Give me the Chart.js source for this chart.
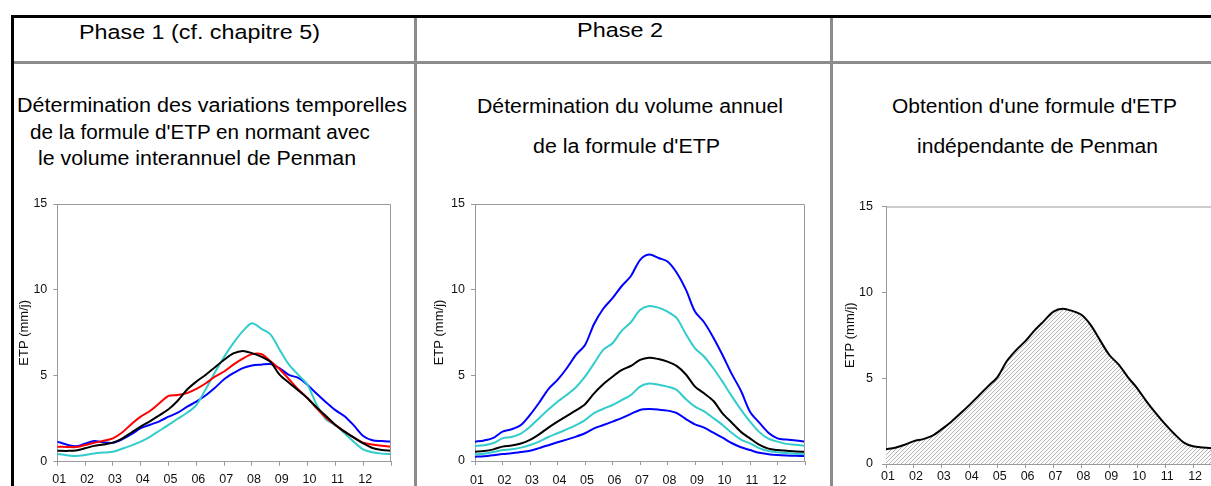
<!DOCTYPE html>
<html lang="fr">
<head>
<meta charset="utf-8">
<title>ETP - phases 1 et 2</title>
<script src="https://cdn.jsdelivr.net/npm/chart.js@4.4.1/dist/chart.umd.min.js"></script>
<style>
  html, body { margin: 0; padding: 0; background: #fff; overflow: hidden; }
  body { width: 1211px; height: 486px; position: relative; font-family: "Liberation Sans", Arial, sans-serif; color: #000; }
  .ln { position: absolute; }
  .txt { position: absolute; white-space: nowrap; transform-origin: 0 0; }
  .hd { font-size: 20.5px; line-height: 20px; }
  .sub { font-size: 19.5px; line-height: 19px; }
  canvas { position: absolute; }
</style>
</head>
<body>
<!-- cadre du tableau -->
<div class="ln" style="left:11px;top:15px;width:1200px;height:3px;background:#000"></div>
<div class="ln" style="left:11px;top:15px;width:3px;height:471px;background:#000"></div>
<div class="ln" style="left:14px;top:61px;width:1197px;height:3px;background:#8c8c8c"></div>
<div class="ln" style="left:414px;top:18px;width:3px;height:468px;background:#8c8c8c"></div>
<div class="ln" style="left:830px;top:18px;width:3px;height:468px;background:#8c8c8c"></div>

<!-- textes (data-w = largeur visée) -->
<div class="txt hd" data-w="241" style="left:79px;top:22px">Phase 1 (cf. chapitre 5)</div>
<div class="txt hd" data-w="86" style="left:577px;top:20px">Phase 2</div>

<div class="txt sub" data-w="390" style="left:17px;top:96px">Détermination des variations temporelles</div>
<div class="txt sub" data-w="340" style="left:30px;top:123px">de la formule d'ETP en normant avec</div>
<div class="txt sub" data-w="318" style="left:38px;top:149px">le volume interannuel de Penman</div>

<div class="txt sub" data-w="306" style="left:477px;top:97px">Détermination du volume annuel</div>
<div class="txt sub" data-w="187" style="left:533px;top:137px">de la formule d'ETP</div>

<div class="txt sub" data-w="285" style="left:892px;top:97px">Obtention d'une formule d'ETP</div>
<div class="txt sub" data-w="241" style="left:917px;top:137px">indépendante de Penman</div>

<canvas id="c1" width="410" height="310" style="left:0;top:190px"></canvas>
<canvas id="c2" width="410" height="310" style="left:415px;top:190px"></canvas>
<canvas id="c3" width="400" height="310" style="left:831px;top:190px"></canvas>

<script>
/* --------- données --------- */
// libellés des mois (axe X)
const monthLabels = ["01","02","03","04","05","06","07","08","09","10","11","12"];

// position des décades, en mois depuis le 1er janvier
const decadePos = [0,0.33,0.67,1,1.33,1.67,2,2.33,2.67,3,3.33,3.67,4,4.33,4.67,5,5.33,5.67,
  6,6.33,6.67,7,7.33,7.67,8,8.33,8.67,9,9.33,9.67,10,10.33,10.67,11,11.33,11.67,12];

const yTicks = [0, 5, 10, 15];

// Phase 1 : variations temporelles (mm/j)
const p1Blue  = [1.17,1.0,0.9,1.05,1.2,1.12,1.1,1.3,1.6,1.95,2.15,2.35,2.62,2.85,3.2,3.5,3.85,4.3,
  4.8,5.15,5.45,5.6,5.65,5.68,5.44,5.05,4.88,4.47,3.95,3.45,3.0,2.65,2.1,1.5,1.25,1.2,1.17];
const p1Red   = [0.87,0.86,0.85,0.97,1.1,1.22,1.36,1.7,2.2,2.62,2.95,3.4,3.83,3.88,4.0,4.24,4.55,4.95,
  5.25,5.65,6.0,6.26,6.27,5.85,5.38,4.8,4.2,3.69,3.1,2.55,2.14,1.75,1.4,1.11,1.0,0.93,0.87];
const p1Black = [0.64,0.63,0.65,0.78,0.92,1.0,1.11,1.35,1.7,2.04,2.35,2.7,3.05,3.55,4.2,4.66,5.05,5.5,
  5.93,6.3,6.45,6.32,6.12,5.8,5.05,4.6,4.15,3.69,3.15,2.65,2.14,1.75,1.4,1.07,0.8,0.68,0.64];
const p1Cyan  = [0.45,0.38,0.33,0.39,0.48,0.53,0.58,0.75,0.95,1.17,1.45,1.8,2.14,2.5,2.85,3.3,4.2,5.2,
  6.1,6.9,7.6,8.06,7.75,7.4,6.51,5.65,5.05,4.47,3.3,2.45,2.14,1.65,1.15,0.72,0.55,0.47,0.45];

// Phase 2 : volume annuel (mm/j)
const p2BlueHi  = [1.13,1.2,1.35,1.71,1.85,2.1,2.69,3.4,4.2,4.73,5.4,6.2,6.77,8.0,8.9,9.5,10.2,10.8,
  11.73,12.05,11.85,11.64,11.0,10.0,8.72,8.1,7.2,6.19,5.1,4.1,2.88,2.25,1.65,1.32,1.25,1.2,1.13];
const p2CyanHi  = [0.88,0.92,1.05,1.32,1.4,1.6,2.0,2.5,3.0,3.46,3.85,4.3,4.92,5.7,6.5,6.87,7.6,8.1,
  8.81,9.05,8.95,8.72,8.35,7.4,6.58,6.1,5.4,4.63,3.8,3.0,2.3,1.7,1.3,1.13,1.0,0.95,0.88];
const p2Black   = [0.54,0.58,0.68,0.84,0.9,1.02,1.23,1.55,1.95,2.3,2.62,2.95,3.31,3.95,4.5,4.92,5.3,5.55,
  5.9,6.03,5.95,5.8,5.55,5.05,4.34,3.95,3.5,2.78,2.25,1.7,1.32,0.95,0.72,0.64,0.6,0.56,0.54];
const p2CyanLo  = [0.39,0.43,0.52,0.64,0.68,0.78,0.93,1.13,1.4,1.62,1.85,2.1,2.39,2.8,3.05,3.27,3.55,3.85,
  4.34,4.52,4.45,4.34,4.15,3.6,3.17,2.9,2.5,2.1,1.65,1.25,1.03,0.75,0.58,0.51,0.46,0.43,0.39];
const p2BlueLo  = [0.25,0.28,0.34,0.41,0.45,0.52,0.6,0.75,0.92,1.09,1.25,1.42,1.62,1.9,2.1,2.3,2.5,2.75,
  2.98,3.03,3.0,2.94,2.8,2.45,2.14,1.95,1.65,1.36,1.05,0.8,0.64,0.48,0.4,0.35,0.32,0.3,0.29];

// formule indépendante (mm/j)
const p3Etp = [0.86,0.95,1.12,1.33,1.45,1.65,2.03,2.45,2.95,3.46,4.0,4.55,5.08,6.0,6.65,7.17,7.8,8.35,
  8.88,9.05,8.92,8.69,8.1,7.2,6.35,5.8,5.05,4.41,3.65,2.95,2.32,1.75,1.25,1.03,0.96,0.92,0.9];

const BLUE = "#0000ff", CYAN = "#33cccc", RED = "#ff0000", BLACK = "#000000";
const AXIS = "#9a9a9a";
const FONT = "'Liberation Sans', Arial, sans-serif";

/* --------- textes : ajuster la largeur --------- */
document.querySelectorAll(".txt").forEach((el) => {
  const w = el.getBoundingClientRect().width;
  el.style.transform = `scaleX(${(+el.dataset.w / w).toFixed(3)})`;
});

/* --------- helpers --------- */
function makeDataset(data, color, extra = {}) {
  return Object.assign({
    data,
    borderColor: color,
    borderWidth: 2,
    pointRadius: 0,
    tension: 0.3,
    fill: false,
  }, extra);
}

// cadre gris haut + droite de la zone de tracé
const frame = {
  id: "frame",
  afterDraw(chart) {
    const { ctx, chartArea: a } = chart;
    ctx.save();
    ctx.strokeStyle = AXIS;
    ctx.lineWidth = 1;
    ctx.beginPath();
    ctx.moveTo(a.left, a.top + 0.5);
    ctx.lineTo(a.right - 0.5, a.top + 0.5);
    ctx.lineTo(a.right - 0.5, a.bottom);
    ctx.stroke();
    ctx.restore();
  },
};

function defaultOptions(o) {
  return {
    responsive: false,
    animation: false,
    devicePixelRatio: 1,
    layout: { padding: { left: 12, top: o.top, right: o.right, bottom: 0 } },
    plugins: { legend: { display: false }, tooltip: { enabled: false } },
    scales: {
      x: {
        type: "linear",
        min: 0,
        max: 12,
        afterFit: (s) => { s.height = o.xHeight; },
        grid: { drawOnChartArea: false, drawTicks: true, tickLength: 4, color: AXIS },
        border: { display: true, color: AXIS },
        ticks: {
          stepSize: 1,
          autoSkip: false,
          maxRotation: 0,
          padding: o.xPad,
          labelOffset: 2,
          color: "#111",
          font: { family: FONT, size: 12.5 },
          callback: (v) => monthLabels[v] ?? "",
        },
      },
      y: {
        min: 0,
        max: 15,
        afterFit: (s) => { s.width = o.yWidth; },
        afterBuildTicks: (s) => { s.ticks = yTicks.map((v) => ({ value: v })); },
        grid: { drawOnChartArea: false, drawTicks: true, tickLength: 4, color: AXIS },
        border: { display: true, color: AXIS },
        ticks: { padding: o.yPad, color: "#111", font: { family: FONT, size: 12.5 } },
        title: {
          display: true,
          text: "ETP (mm/j)",
          color: "#111",
          font: { family: FONT, size: 13 },
          padding: { top: o.titlePad, bottom: 0 },
        },
      },
    },
  };
}

/* --------- Phase 1 --------- */
new Chart(document.getElementById("c1"), {
  type: "line",
  data: {
    labels: decadePos,
    datasets: [
      makeDataset(p1Black, BLACK),
      makeDataset(p1Red, RED),
      makeDataset(p1Cyan, CYAN),
      makeDataset(p1Blue, BLUE),
    ],
  },
  options: defaultOptions({ top: 14, right: 19, xHeight: 38.3, yWidth: 45.3, xPad: 6, yPad: 6, titlePad: 5 }),
  plugins: [frame],
});

/* --------- Phase 2 --------- */
new Chart(document.getElementById("c2"), {
  type: "line",
  data: {
    labels: decadePos,
    datasets: [
      makeDataset(p2Black, BLACK),
      makeDataset(p2CyanHi, CYAN),
      makeDataset(p2CyanLo, CYAN),
      makeDataset(p2BlueHi, BLUE),
      makeDataset(p2BlueLo, BLUE),
    ],
  },
  options: defaultOptions({ top: 14, right: 20, xHeight: 39, yWidth: 48, xPad: 8, yPad: 6, titlePad: 5 }),
  plugins: [frame],
});

/* --------- formule indépendante (hachurée) --------- */
const c3 = document.getElementById("c3");
const tile = document.createElement("canvas");
tile.width = 4;
tile.height = 4;
const tctx = tile.getContext("2d");
tctx.fillStyle = "#fcfcfc";
tctx.fillRect(0, 0, 4, 4);
tctx.fillStyle = "#b4b4b4";
[[3, 0], [2, 1], [1, 2], [0, 3]].forEach(([x, y]) => tctx.fillRect(x, y, 1, 1));
const hatch = c3.getContext("2d").createPattern(tile, "repeat");

new Chart(c3, {
  type: "line",
  data: {
    labels: decadePos,
    datasets: [makeDataset(p3Etp, BLACK, { fill: "origin", backgroundColor: hatch })],
  },
  options: defaultOptions({ top: 11, right: 10, xHeight: 36, yWidth: 43, xPad: 1, yPad: 9, titlePad: 0 }),
  plugins: [frame],
});
</script>
</body>
</html>
